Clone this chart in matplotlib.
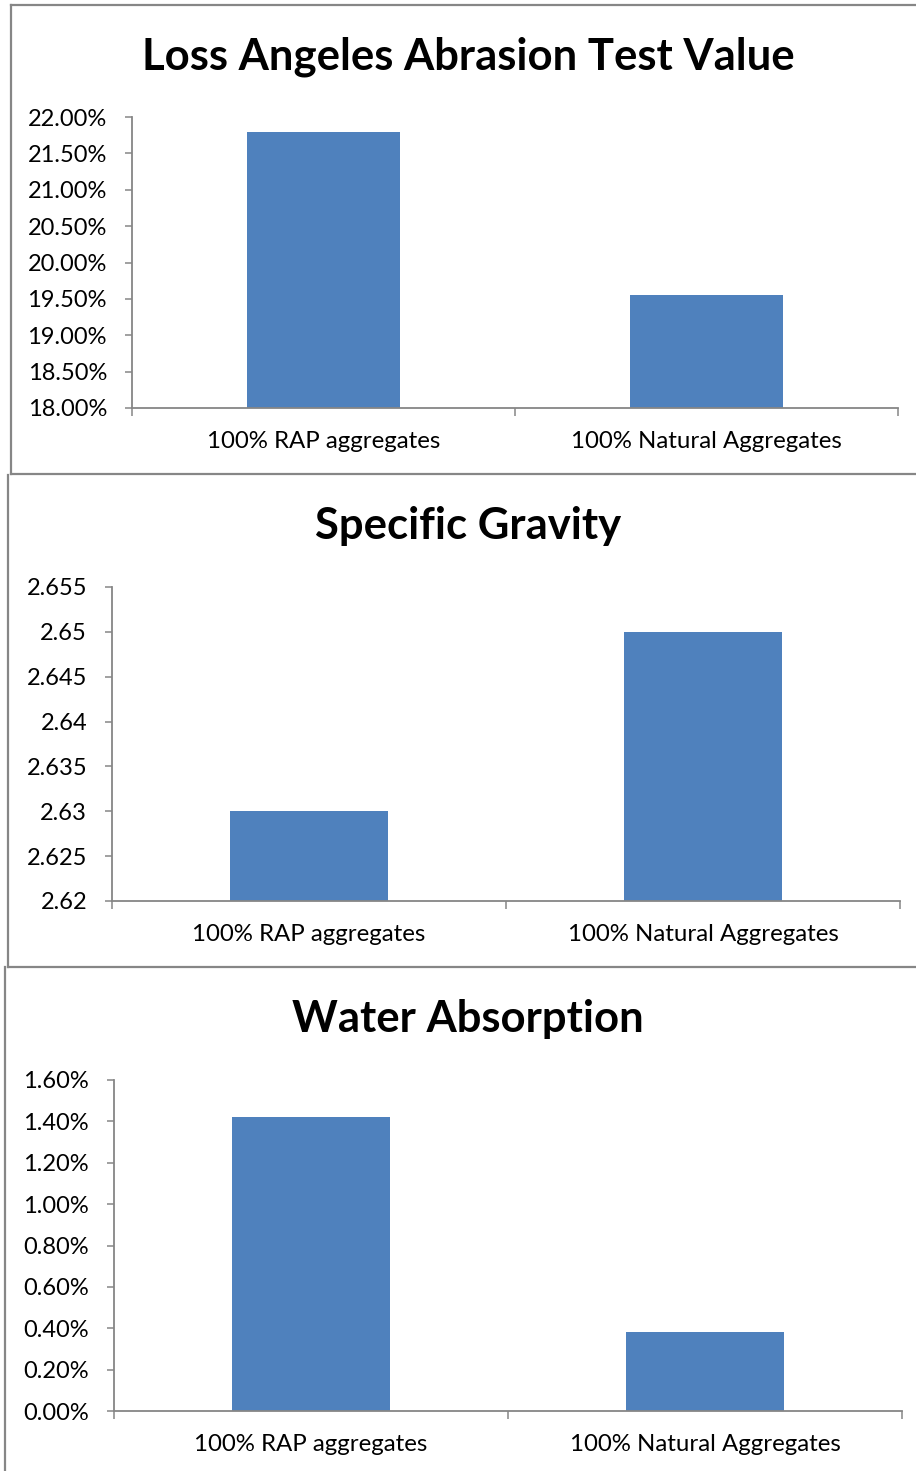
import matplotlib
matplotlib.use("Agg")
import matplotlib.pyplot as plt
from matplotlib.lines import Line2D
from matplotlib.ticker import FixedLocator, FuncFormatter

categories = ["100% RAP aggregates", "100% Natural Aggregates"]

abrasion_values = [21.80, 19.55]          # percent
abrasion_ticks = [18.0, 18.5, 19.0, 19.5, 20.0, 20.5, 21.0, 21.5, 22.0]

gravity_values = [2.63, 2.65]
gravity_ticks = [2.62, 2.625, 2.63, 2.635, 2.64, 2.645, 2.65, 2.655]

absorption_values = [1.42, 0.38]          # percent
absorption_ticks = [0.0, 0.2, 0.4, 0.6, 0.8, 1.0, 1.2, 1.4, 1.6]

titles = ["Loss Angeles Abrasion Test Value", "Specific Gravity", "Water Absorption"]

BAR = "#4F81BD"
GRAY = "#868686"
FONT = ["Lato", "DejaVu Sans"]

W, H = 916, 1471
fig = plt.figure(figsize=(W / 100, H / 100), dpi=100)
fig.patch.set_facecolor("white")


def fx(px):
    return px / W


def fy(py):
    return 1 - py / H


def add_axes(left, top, right, bottom):
    return fig.add_axes([fx(left), fy(bottom), fx(right) - fx(left), fy(top) - fy(bottom)])


def style_panel(ax, values, yticks, fmt):
    x = range(len(values))
    ax.bar(list(x), values, width=0.4, color=BAR, zorder=2)
    ax.set_xlim(-0.5, len(values) - 0.5)
    ax.set_ylim(yticks[0], yticks[-1])
    ax.yaxis.set_major_locator(FixedLocator(yticks))
    ax.yaxis.set_major_formatter(FuncFormatter(fmt))
    # category boundary ticks on the x axis, labels centred under bars
    ax.xaxis.set_major_locator(FixedLocator([-0.5 + i for i in range(len(values) + 1)]))
    ax.xaxis.set_major_formatter(FuncFormatter(lambda v, p: ""))
    ax.xaxis.set_minor_locator(FixedLocator(list(x)))
    ax.xaxis.set_minor_formatter(FuncFormatter(lambda v, p: categories[int(round(v))]))
    ax.tick_params(axis="x", which="major", direction="out", length=6, width=1.1, color=GRAY)
    ax.tick_params(axis="x", which="minor", length=0, pad=16.5, labelsize=17.3)
    ax.tick_params(axis="y", direction="out", length=5, width=1.1, color=GRAY,
                   pad=13, labelsize=17)
    for lab in ax.get_xticklabels(minor=True) + ax.get_yticklabels():
        lab.set_family(FONT)
    for s in ("top", "right"):
        ax.spines[s].set_visible(False)
    for s in ("left", "bottom"):
        ax.spines[s].set_color(GRAY)
        ax.spines[s].set_linewidth(1.3)
    ax.set_facecolor("none")


ax1 = add_axes(132, 117, 898, 408)
style_panel(ax1, abrasion_values, abrasion_ticks, lambda v, p: f"{v:.2f}%")

ax2 = add_axes(112, 587, 900, 901)
style_panel(ax2, gravity_values, gravity_ticks, lambda v, p: f"{v:g}")

ax3 = add_axes(114, 1080, 902, 1411)
style_panel(ax3, absorption_values, absorption_ticks, lambda v, p: f"{v:.2f}%")

# chart titles
for title, ycen in zip(titles, [57, 526, 1019]):
    fig.text(fx(468), fy(ycen), title, ha="center", va="center",
             fontsize=31.4, fontweight="bold", family=FONT)

# chart-area borders
borders = [
    ((11, 11), (5, 474)), ((11, W), (5, 5)), ((11, W), (474, 474)),
    ((8, 8), (475, 967)), ((8, W), (967, 967)),
    ((5, 5), (967, H)),
]
for xs, ys in borders:
    fig.add_artist(Line2D([fx(xs[0]), fx(xs[1])], [fy(ys[0]), fy(ys[1])],
                          color=GRAY, linewidth=1.6, transform=fig.transFigure))

fig.savefig("out.png", dpi=100, facecolor="white")
